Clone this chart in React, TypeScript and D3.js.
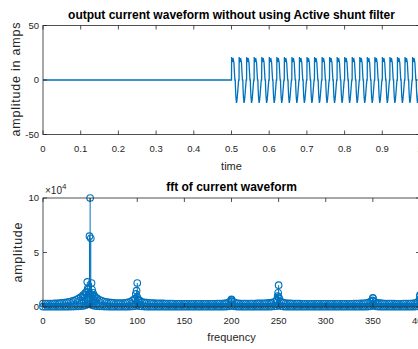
import React, { useRef, useEffect } from 'react';
import * as d3 from 'd3';

const blue = '#0072BD';
const ink = '#262626';

// one period of the load current: phase (fraction of period) and amps
const cyclePhase = [0, 0.015, 0.05, 0.1, 0.16, 0.24, 0.32, 0.4, 0.45, 0.5, 0.52, 0.58, 0.66, 0.72, 0.8, 0.9, 0.95, 1];
const cycleAmps = [0, 21, 16, 20, 18, 19, 16, 6, 0, 0, -6, -15, -21, -19, -13, -4, 0, 0];
// the filterless load is switched in at 0.5 s, 50 Hz
const cycleStarts = [
  0.5, 0.52, 0.54, 0.56, 0.58, 0.6, 0.62, 0.64, 0.66, 0.68, 0.7, 0.72, 0.74,
  0.76, 0.78, 0.8, 0.82, 0.84, 0.86, 0.88, 0.9, 0.92, 0.94, 0.96, 0.98,
];
const cyclePeriod = 0.02;

// fft bins (Hz), 2.5 Hz apart
const fftFreq = [
  0, 2.5, 5, 7.5, 10, 12.5, 15, 17.5, 20, 22.5, 25, 27.5, 30, 32.5, 35, 37.5, 40, 42.5, 45, 47.5,
  50, 52.5, 55, 57.5, 60, 62.5, 65, 67.5, 70, 72.5, 75, 77.5, 80, 82.5, 85, 87.5, 90, 92.5, 95, 97.5,
  100, 102.5, 105, 107.5, 110, 112.5, 115, 117.5, 120, 122.5, 125, 127.5, 130, 132.5, 135, 137.5, 140, 142.5, 145, 147.5,
  150, 152.5, 155, 157.5, 160, 162.5, 165, 167.5, 170, 172.5, 175, 177.5, 180, 182.5, 185, 187.5, 190, 192.5, 195, 197.5,
  200, 202.5, 205, 207.5, 210, 212.5, 215, 217.5, 220, 222.5, 225, 227.5, 230, 232.5, 235, 237.5, 240, 242.5, 245, 247.5,
  250, 252.5, 255, 257.5, 260, 262.5, 265, 267.5, 270, 272.5, 275, 277.5, 280, 282.5, 285, 287.5, 290, 292.5, 295, 297.5,
  300, 302.5, 305, 307.5, 310, 312.5, 315, 317.5, 320, 322.5, 325, 327.5, 330, 332.5, 335, 337.5, 340, 342.5, 345, 347.5,
  350, 352.5, 355, 357.5, 360, 362.5, 365, 367.5, 370, 372.5, 375, 377.5, 380, 382.5, 385, 387.5, 390, 392.5, 395, 397.5,
  400, 402.5, 405, 407.5, 410, 412.5, 415, 417.5, 420,
];
// upper edge of the dense spectrum band
const bandAmp = [
  3200, 3150, 3100, 3100, 3200, 3250, 3400, 3500, 3800, 4000, 4300, 4700, 5200, 5800, 6600, 7600, 9000, 11000, 13000, 17000,
  12000, 11000, 9500, 8000, 6500, 5700, 5000, 4600, 4200, 4000, 3800, 3600, 3500, 3500, 3600, 3800, 4200, 4800, 6000, 7500,
  9000, 6000, 4500, 4200, 4000, 3800, 3600, 3500, 3400, 3350, 3300, 3250, 3200, 3150, 3100, 3100, 3000, 3000, 3000, 3000,
  3000, 3000, 3000, 3000, 3000, 3000, 3000, 3000, 3000, 3000, 3000, 3000, 3000, 3000, 3100, 3100, 3200, 3300, 3600, 4500,
  6500, 4500, 3600, 3400, 3200, 3150, 3100, 3100, 3100, 3150, 3200, 3250, 3300, 3350, 3400, 3550, 3700, 4000, 4500, 5500,
  9000, 5000, 4000, 3600, 3400, 3300, 3200, 3150, 3100, 3050, 3000, 3000, 3000, 3000, 3000, 3000, 3000, 3000, 3000, 3000,
  3000, 3000, 3000, 3000, 3000, 3000, 3000, 3000, 3000, 3000, 3000, 3000, 3100, 3100, 3200, 3300, 3400, 3600, 4000, 5000,
  8000, 4500, 3800, 3500, 3300, 3200, 3200, 3100, 3100, 3050, 3000, 3000, 3000, 3100, 3100, 3200, 3200, 3400, 3600, 4500,
  10000, 5000, 4000, 3600, 3400, 3200, 3200, 3100, 3100,
];
// lower edge of the band, bins that sit near zero
const floorAmp = [
  300, 300, 300, 300, 300, 300, 300, 300, 300, 300, 300, 300, 400, 400, 500, 600, 800, 1000, 1500, 2500,
  2500, 1500, 1000, 800, 600, 500, 400, 400, 300, 300, 300, 300, 300, 300, 300, 300, 300, 400, 500, 800,
  1500, 800, 500, 400, 300, 300, 300, 300, 300, 300, 300, 300, 300, 300, 300, 300, 300, 300, 300, 300,
  300, 300, 300, 300, 300, 300, 300, 300, 300, 300, 300, 300, 300, 300, 300, 300, 300, 300, 400, 600,
  1000, 600, 400, 300, 300, 300, 300, 300, 300, 300, 300, 300, 300, 300, 300, 300, 300, 400, 500, 800,
  1500, 700, 400, 300, 300, 300, 300, 300, 300, 300, 300, 300, 300, 300, 300, 300, 300, 300, 300, 300,
  300, 300, 300, 300, 300, 300, 300, 300, 300, 300, 300, 300, 300, 300, 300, 300, 300, 300, 400, 600,
  1200, 600, 400, 300, 300, 300, 300, 300, 300, 300, 300, 300, 300, 300, 300, 300, 300, 300, 400, 600,
  1500, 700, 400, 300, 300, 300, 300, 300, 300,
];
// harmonic clusters
const peakFreq = [
  42, 44, 46, 47, 48, 49.3, 50, 50.7, 51.5, 52, 53, 54, 56,
  97.5, 98.5, 99.3, 100, 100.7, 101.5,
  199.5, 200, 200.5,
  248, 249, 249.5, 250, 250.5,
  349.5, 350, 350.5,
  399.5, 400, 400.5,
];
const peakAmp = [
  9000, 11000, 14000, 23000, 16000, 65000, 100000, 63000, 22000, 16000, 13000, 11000, 8500,
  7500, 12000, 15000, 22000, 7000, 5500,
  5500, 7000, 5000,
  6500, 10000, 13000, 20000, 8000,
  6000, 8500, 5500,
  7000, 11000, 6000,
];

const timeTicks = [0, 0.1, 0.2, 0.3, 0.4, 0.5, 0.6, 0.7, 0.8, 0.9, 1];
const ampTicks = [-50, 0, 50];
const freqTicks = [0, 50, 100, 150, 200, 250, 300, 350, 400];
const fftTicks = [0, 50000, 100000];

const W = 418;
const H = 349;

const App = () => {
  const ref = useRef<SVGSVGElement>(null);

  useEffect(() => {
    const svg = d3.select(ref.current);
    svg.selectAll('*').remove();
    const font = '"Liberation Sans", Arial, sans-serif';
    const left = 43;
    const right = 420;

    const drawFrame = (g, x, y, xTicks, yTicks, xFmt, yFmt) => {
      const [x0, x1] = x.range();
      const [y0, y1] = y.range();
      g.append('rect')
        .attr('x', x0).attr('y', y1)
        .attr('width', x1 - x0).attr('height', y0 - y1)
        .attr('fill', 'none').attr('stroke', ink).attr('stroke-width', 0.8);
      xTicks.forEach((t) => {
        const px = x(t);
        g.append('line').attr('x1', px).attr('x2', px).attr('y1', y0).attr('y2', y0 - 4)
          .attr('stroke', ink).attr('stroke-width', 0.8);
        g.append('line').attr('x1', px).attr('x2', px).attr('y1', y1).attr('y2', y1 + 4)
          .attr('stroke', ink).attr('stroke-width', 0.8);
        g.append('text').attr('x', px).attr('y', y0 + 17)
          .attr('text-anchor', 'middle').attr('font-size', 9.5).attr('fill', ink)
          .attr('font-family', font).text(xFmt(t));
      });
      yTicks.forEach((t) => {
        const py = y(t);
        g.append('line').attr('x1', x0).attr('x2', x0 + 4).attr('y1', py).attr('y2', py)
          .attr('stroke', ink).attr('stroke-width', 0.8);
        g.append('line').attr('x1', x1).attr('x2', x1 - 4).attr('y1', py).attr('y2', py)
          .attr('stroke', ink).attr('stroke-width', 0.8);
        g.append('text').attr('x', x0 - 4).attr('y', py).attr('dy', '0.35em')
          .attr('text-anchor', 'end').attr('font-size', 9.5).attr('fill', ink)
          .attr('font-family', font).text(yFmt(t));
      });
    };

    // ---- top: time waveform
    const xT = d3.scaleLinear().domain([0, 1]).range([left, right]);
    const yT = d3.scaleLinear().domain([-50, 50]).range([134.5, 25.5]);

    const wave: [number, number][] = [[0, 0]];
    cycleStarts.forEach((s) => {
      cyclePhase.forEach((p, i) => wave.push([s + p * cyclePeriod, cycleAmps[i]]));
    });

    svg.append('clipPath').attr('id', 'clipTop').append('rect')
      .attr('x', left).attr('y', 25).attr('width', right - left).attr('height', 109);

    svg.append('path')
      .datum(wave)
      .attr('clip-path', 'url(#clipTop)')
      .attr('fill', 'none')
      .attr('stroke', blue)
      .attr('stroke-width', 1.3)
      .attr('d', d3.line().x((d) => xT(d[0])).y((d) => yT(d[1])));

    drawFrame(svg.append('g'), xT, yT, timeTicks, ampTicks, (d) => String(d), (d) => String(d));

    svg.append('text').attr('x', (left + right) / 2).attr('y', 18.5)
      .attr('text-anchor', 'middle').attr('font-size', 12).attr('font-weight', 'bold')
      .attr('fill', '#000').attr('font-family', font)
      .text('output current waveform without using Active shunt filter');
    svg.append('text').attr('x', (left + right) / 2).attr('y', 170)
      .attr('text-anchor', 'middle').attr('font-size', 11).attr('fill', ink)
      .attr('font-family', font).text('time');
    svg.append('text').attr('transform', 'translate(20,79.5) rotate(-90)')
      .attr('text-anchor', 'middle').attr('font-size', 12.5).attr('fill', ink)
      .attr('font-family', font).attr('textLength', 114).text('amplitude in amps');

    // ---- bottom: fft stem plot
    const xF = d3.scaleLinear().domain([0, 400]).range([left, right]);
    const yF = d3.scaleLinear().domain([0, 100000]).range([307, 198]);

    const pts: [number, number][] = [];
    fftFreq.forEach((f, i) => pts.push([f, floorAmp[i]]));
    fftFreq.forEach((f, i) => pts.push([f, bandAmp[i]]));
    peakFreq.forEach((f, i) => pts.push([f, peakAmp[i]]));

    const stems = svg.append('g');
    pts.forEach(([f, a]) => {
      stems.append('line')
        .attr('x1', xF(f)).attr('x2', xF(f))
        .attr('y1', yF(0)).attr('y2', yF(a))
        .attr('stroke', blue).attr('stroke-width', 1);
    });
    pts.forEach(([f, a]) => {
      stems.append('circle')
        .attr('cx', xF(f)).attr('cy', yF(a)).attr('r', 3.3)
        .attr('fill', 'none').attr('stroke', blue).attr('stroke-width', 1.1);
    });

    drawFrame(svg.append('g'), xF, yF, freqTicks, fftTicks, (d) => String(d), (d) => String(d / 10000));

    const exp = svg.append('text').attr('x', 45).attr('y', 194)
      .attr('font-size', 10).attr('fill', ink).attr('font-family', font);
    exp.append('tspan').text('\u00d710');
    exp.append('tspan').attr('dy', -5).attr('font-size', 8).text('4');

    svg.append('text').attr('x', (left + right) / 2).attr('y', 190.5)
      .attr('text-anchor', 'middle').attr('font-size', 12).attr('font-weight', 'bold')
      .attr('fill', '#000').attr('font-family', font).text('fft of current waveform');
    svg.append('text').attr('x', (left + right) / 2).attr('y', 341)
      .attr('text-anchor', 'middle').attr('font-size', 11).attr('fill', ink)
      .attr('font-family', font).text('frequency');
    svg.append('text').attr('transform', 'translate(22,252.5) rotate(-90)')
      .attr('text-anchor', 'middle').attr('font-size', 12.5).attr('fill', ink)
      .attr('font-family', font).attr('textLength', 60).text('amplitude');
  }, []);

  return (
    <svg
      ref={ref}
      width={W}
      height={H}
      style={{ position: 'absolute', left: 0, top: 0, background: '#fff' }}
    />
  );
};

export default App;
